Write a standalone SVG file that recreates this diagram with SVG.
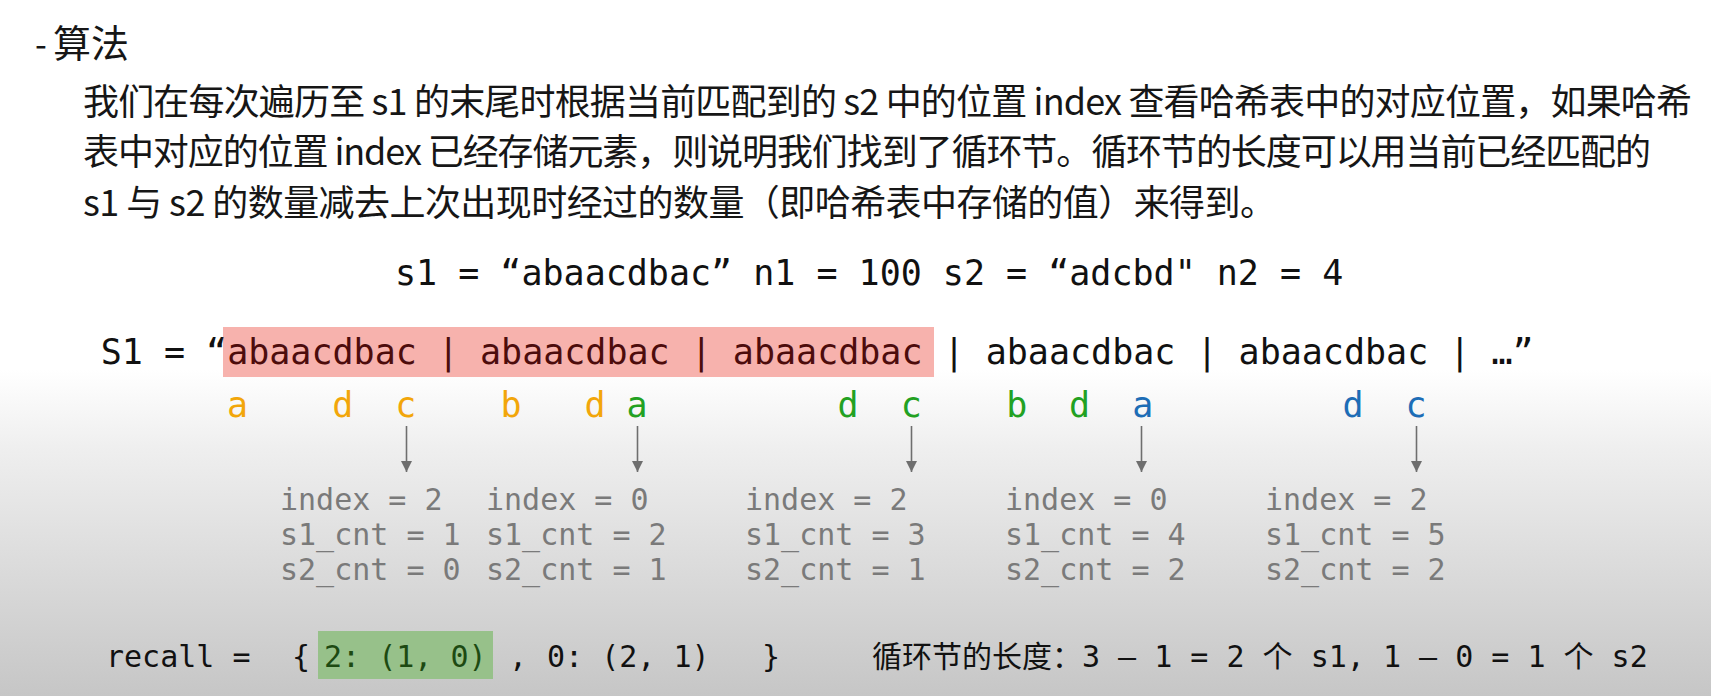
<svg xmlns="http://www.w3.org/2000/svg" width="1711" height="696" viewBox="0 0 1711 696">
<defs>
<linearGradient id="bg" gradientUnits="userSpaceOnUse" x1="0" y1="370" x2="0" y2="696">
<stop offset="0" stop-color="#ffffff"/>
<stop offset="0.25" stop-color="#eeeeee"/>
<stop offset="1" stop-color="#c6c6c6"/>
</linearGradient>
<marker id="ah" markerUnits="userSpaceOnUse" markerWidth="11" markerHeight="11" viewBox="0 0 10 10" refX="10" refY="5" orient="auto">
<path d="M0,0 L10,5 L0,10 Z" fill="#6e6e6e"/>
</marker>
</defs>
<style>
text{white-space:pre}
.cn{font-family:"Noto Sans CJK SC","Noto Sans",sans-serif;fill:#161616}
.mono{font-family:"DejaVu Sans Mono","Noto Sans CJK SC",monospace}
.big{font-size:35px}
.info{font-size:30px;fill:#7a7a7a}
.or{fill:#f2a60a}
.gr{fill:#22a122}
.bl{fill:#1d6db6}
.conn line{stroke:#6e6e6e;stroke-width:1.6;marker-end:url(#ah)}
</style>
<rect x="0" y="0" width="1711" height="696" fill="url(#bg)"/>

<g id="title">
<text class="cn" x="35" y="57" font-size="34">-</text>
<text class="cn" x="53" y="57" font-size="38">算法</text>
</g>

<g id="description">
<text class="cn" x="83" y="115" font-size="36" textLength="1609">我们在每次遍历至 s1 的末尾时根据当前匹配到的 s2 中的位置 index 查看哈希表中的对应位置，如果哈希</text>
<text class="cn" x="83" y="165" font-size="36" textLength="1568">表中对应的位置 index 已经存储元素，则说明我们找到了循环节。循环节的长度可以用当前已经匹配的</text>
<text class="cn" x="83" y="216" font-size="36" textLength="1193">s1 与 s2 的数量减去上次出现时经过的数量（即哈希表中存储的值）来得到。</text>
</g>

<g id="params">
<text class="mono big" x="395" y="285" fill="#111">s1 = “abaacdbac” n1 = 100 s2 = “adcbd" n2 = 4</text>
</g>

<g id="s1-string">
<rect x="223" y="327" width="711" height="50" fill="#f7b2ad"/>
<text class="mono big" x="100.7" y="364" fill="#111">S1 = “<tspan fill="#4d0c0c">abaacdbac | abaacdbac | abaacdbac </tspan>| abaacdbac | abaacdbac | …”</text>
</g>

<g id="matches" class="mono big" text-anchor="middle">
<text class="or" x="237.5" y="417">a</text>
<text class="or" x="342.8" y="417">d</text>
<text class="or" x="405.9" y="417">c</text>
<text class="or" x="511" y="417">b</text>
<text class="or" x="595" y="417">d</text>
<text class="gr" x="637" y="417">a</text>
<text class="gr" x="848" y="417">d</text>
<text class="gr" x="911.2" y="417">c</text>
<text class="gr" x="1016.9" y="417">b</text>
<text class="gr" x="1079.5" y="417">d</text>
<text class="bl" x="1142.7" y="417">a</text>
<text class="bl" x="1353" y="417">d</text>
<text class="bl" x="1416" y="417">c</text>
</g>

<g id="connectors" class="conn">
<line x1="406.5" y1="426" x2="406.5" y2="472"/>
<line x1="637.5" y1="426" x2="637.5" y2="472"/>
<line x1="911.5" y1="426" x2="911.5" y2="472"/>
<line x1="1141.5" y1="426" x2="1141.5" y2="472"/>
<line x1="1416.5" y1="426" x2="1416.5" y2="472"/>
</g>

<g id="state1" class="mono info">
<text x="280" y="510">index = 2</text>
<text x="280" y="545">s1_cnt = 1</text>
<text x="280" y="580">s2_cnt = 0</text>
</g>
<g id="state2" class="mono info">
<text x="486" y="510">index = 0</text>
<text x="486" y="545">s1_cnt = 2</text>
<text x="486" y="580">s2_cnt = 1</text>
</g>
<g id="state3" class="mono info">
<text x="745" y="510">index = 2</text>
<text x="745" y="545">s1_cnt = 3</text>
<text x="745" y="580">s2_cnt = 1</text>
</g>
<g id="state4" class="mono info">
<text x="1005" y="510">index = 0</text>
<text x="1005" y="545">s1_cnt = 4</text>
<text x="1005" y="580">s2_cnt = 2</text>
</g>
<g id="state5" class="mono info">
<text x="1265" y="510">index = 2</text>
<text x="1265" y="545">s1_cnt = 5</text>
<text x="1265" y="580">s2_cnt = 2</text>
</g>

<g id="recall">
<rect x="318" y="631" width="175" height="48" fill="#97c18a"/>
<g class="mono" font-size="30" fill="#111">
<text x="106" y="667">recall =</text>
<text x="292" y="667">{</text>
<text x="324" y="667" fill="#1d4a12">2: (1, 0)</text>
<text x="509" y="667">,</text>
<text x="547" y="667">0: (2, 1)</text>
<text x="762" y="667">}</text>
</g>
</g>

<g id="cycle-length">
<text class="mono" x="872" y="667" font-size="30" fill="#111">循环节的长度：3 – 1 = 2 个 s1, 1 – 0 = 1 个 s2</text>
</g>
</svg>
